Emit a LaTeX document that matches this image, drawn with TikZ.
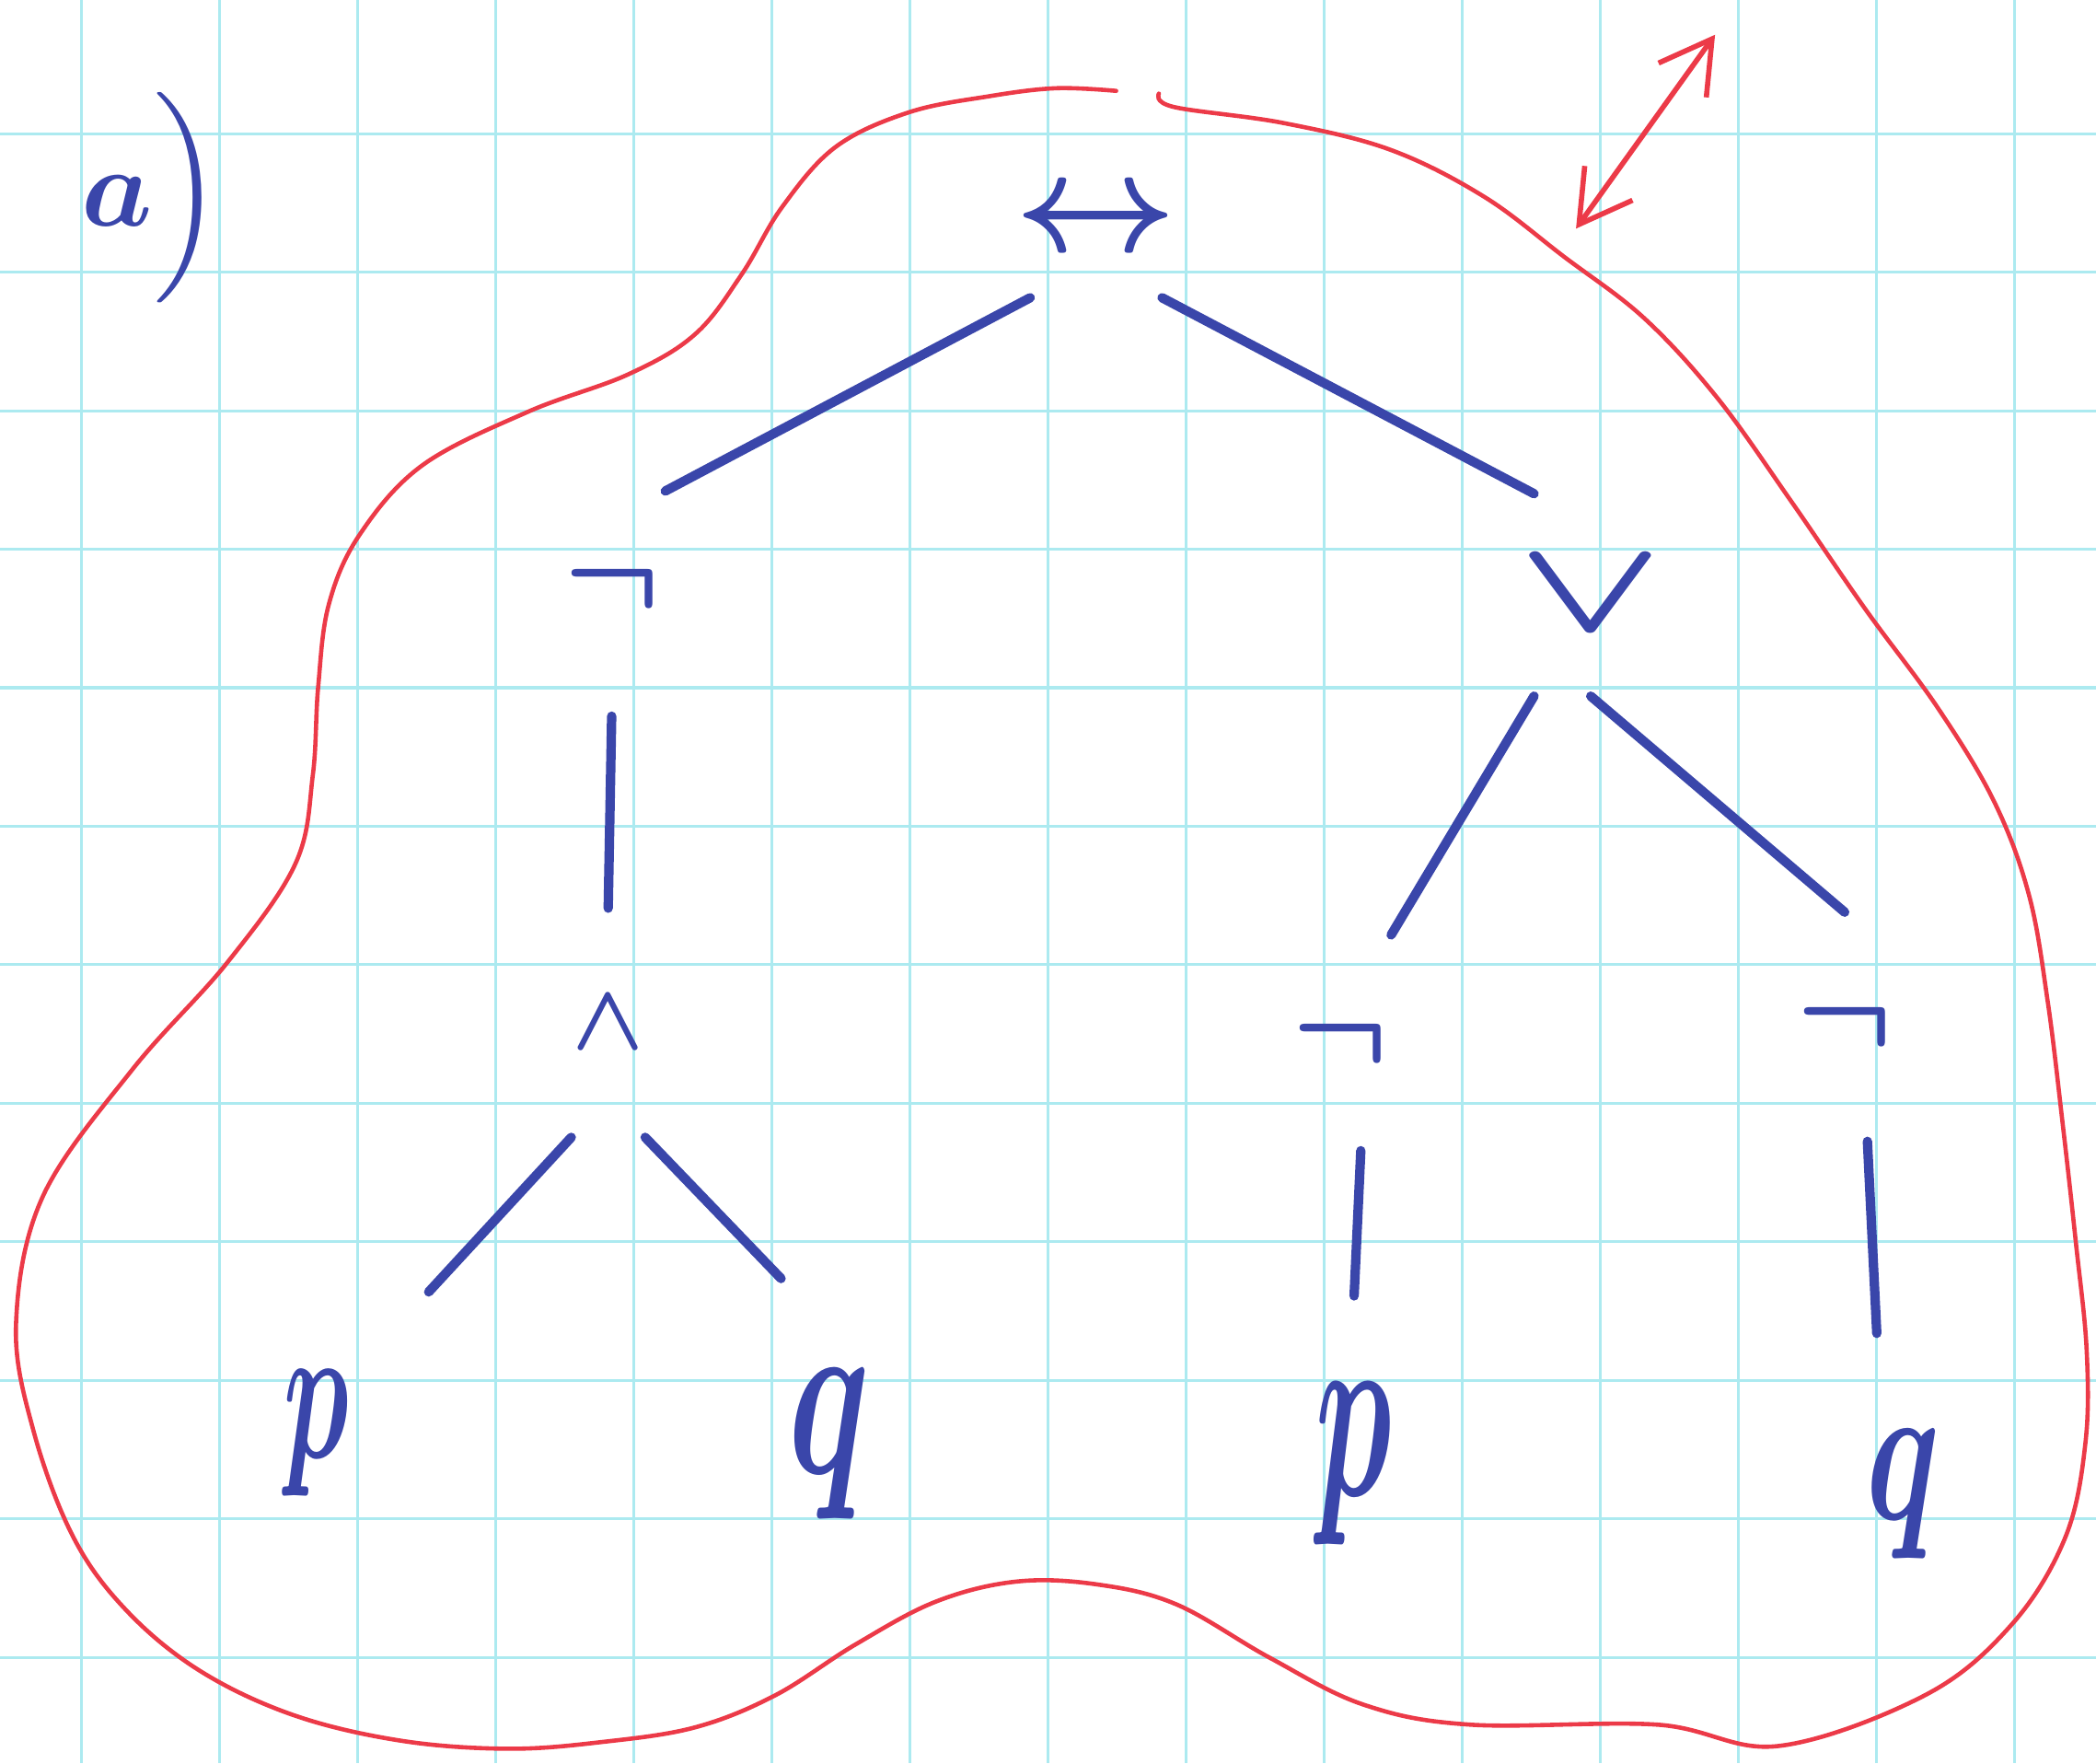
\RequirePackage{fix-cm}
\documentclass[tikz,border=0pt]{standalone}
\usepackage{amsmath}
\usepackage{graphicx}
\usepackage{tikz}
\usetikzlibrary{arrows.meta}
\definecolor{inkBlue}{RGB}{58,70,170}
\definecolor{inkRed}{RGB}{236,58,72}
\definecolor{paperGrid}{RGB}{172,234,240}
\tikzset{
  gridline/.style={draw=paperGrid, line width=0.6pt},
  opnode/.style={text=inkBlue, inner sep=0pt, font=\fontsize{27}{27}\selectfont\boldmath},
  letter/.style={opnode, font=\fontsize{#1}{#1}\selectfont\boldmath},
  branch/.style={draw=inkBlue, line width=2pt, line cap=round},
  hull/.style={draw=inkRed, line width=0.9pt, line cap=round},
  hullarrow/.style={{Straight Barb[length=3.8mm,width=4.4mm]}-{Straight Barb[length=3.8mm,width=4.4mm]}, draw=inkRed, line width=1.1pt, line cap=round}
}

\begin{document}
\begin{tikzpicture}[x=0.1mm, y=-0.1mm]
  \useasboundingbox (0,0) rectangle (1568,1319);
  \fill[white] (0,0) rectangle (1568,1319);
  % squared paper
  \foreach \gx in {0,...,14}
    \draw[gridline] ({61+103.3*\gx},0) -- ({61+103.3*\gx},1319);
  \foreach \gy in {0,...,11}
    \draw[gridline] (0,{100+103.6*\gy}) -- (1568,{100+103.6*\gy});

  \node[opnode, font=\fontsize{24}{27.4}\selectfont\boldmath] (tag) at (114,148) {$a\Big)$};

  % the tree
  \node[opnode, font=\fontsize{30}{30}\selectfont\boldmath, inner xsep=-1.2mm, minimum width=8mm, minimum height=11mm] (root) at (820,167) {$\leftrightarrow$};
  \node[opnode, minimum width=7.8mm, minimum height=14.4mm] (negA) at (458,440) {$\neg$};
  \node[opnode, font=\fontsize{28}{28}\selectfont\boldmath, inner xsep=-1.3mm, minimum width=6.4mm, minimum height=15mm] (orB) at (1190,445) {\scalebox{1.45}[1]{$\vee$}};
  \node[opnode, font=\fontsize{20}{20}\selectfont\boldmath, minimum width=4.8mm, minimum height=17mm] (andA) at (455,765) {$\wedge$};
  \node[opnode, minimum width=7.4mm, minimum height=16mm] (negB) at (1003,780) {$\neg$};
  \node[opnode, minimum height=17mm] (negC) at (1380,768) {$\neg$};
  \node[letter=42, minimum width=16.6mm, minimum height=21mm] (pA) at (237,1072) {\scalebox{0.55}[1]{$p$}};
  \node[letter=50, minimum width=7mm, minimum height=24.6mm] (qA) at (620,1080) {\scalebox{0.6}[1]{$q$}};
  \node[letter=54, minimum height=25mm] (pB) at (1013,1095) {\scalebox{0.5}[1]{$p$}};
  \node[letter=43, minimum height=24mm] (qB) at (1424,1118) {\scalebox{0.63}[1]{$q$}};

  \draw[branch] (root.south west) -- (negA.north east);
  \draw[branch] (root.south east) -- (orB.north west);
  \draw[branch, shorten <=2.3mm] (negA.south) -- (andA.north);
  \draw[branch] (andA.south west) -- (pA.north east);
  \draw[branch] (andA.south east) -- (qA.north west);
  \draw[branch] (orB.south west) -- (negB.north east);
  \draw[branch] (orB.south) -- (negC.north);
  \draw[branch] ([xshift=1.5mm]negB.south) -- (pB.north);
  \draw[branch] ([xshift=1.7mm]negC.south) -- ([xshift=-2mm]qB.north);

  % red outline with the gap at the top
  \draw[hull] plot[smooth, tension=0.6] coordinates {
    (867,70) (878,80) (960,92) (1040,112) (1110,147) (1170,192) (1230,238)
    (1285,298) (1340,375) (1395,455) (1450,530) (1492,600) (1518,670)
    (1532,750) (1543,840) (1553,930) (1561,1010) (1560,1080) (1545,1150)
    (1505,1215) (1440,1268) (1330,1306) (1240,1290) (1100,1290)
    (1020,1275) (950,1240) (880,1200) (820,1185) (760,1183)
    (700,1198) (640,1230) (580,1268) (520,1292) (450,1303) (380,1308)
    (300,1302) (220,1283) (150,1250) (95,1205) (55,1150) (25,1070) (12,990)
    (32,895) (99,800) (170,720) (221,646) (234,580) (238,514)
    (246,452) (269,400) (316,348) (395,308) (470,280) (520,250) (555,205)
    (585,155) (625,110) (680,84) (740,72) (790,66) (835,68)};
  \coordinate (arrowLow) at (1179,171);
  \coordinate (arrowHigh) at (1283,26);
  \draw[hullarrow] (arrowLow) -- (arrowHigh);
\end{tikzpicture}
\end{document}
